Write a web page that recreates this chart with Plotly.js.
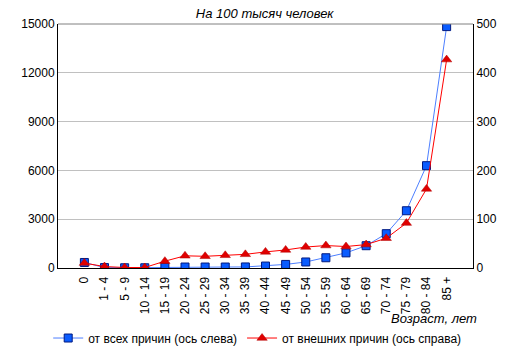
<!DOCTYPE html>
<html>
<head>
<meta charset="utf-8">
<script src="https://cdn.plot.ly/plotly-3.0.1.min.js"></script>
<style>html,body{margin:0;padding:0;background:#fff;}#chart{width:519px;height:355px;}</style>
</head>
<body>
<div id="chart"></div>
<script>
var ageGroups = ["0","1 - 4","5 - 9","10 - 14","15 - 19","20 - 24","25 - 29","30 - 34","35 - 39","40 - 44","45 - 49","50 - 54","55 - 59","60 - 64","65 - 69","70 - 74","75 - 79","80 - 84","85 +"];
var allCauses = [340, 25, 15, 15, 40, 60, 60, 60, 65, 120, 220, 370, 630, 930, 1370, 2110, 3520, 6290, 14840];
var externalCauses = [10, 3, 1, 1, 14, 25, 24, 26, 28, 33, 37, 43, 46, 44, 48, 61, 92, 162, 427];
var leftTicks = [0, 3000, 6000, 9000, 12000, 15000];
var rightTicks = [0, 100, 200, 300, 400, 500];

var font = "Liberation Sans, Arial, sans-serif";

var traces = [
  {
    x: ageGroups, y: allCauses, type: "scatter", mode: "lines+markers",
    name: "от всех причин (ось слева)",
    line: {color: "#4d7fff", width: 1},
    marker: {symbol: "square", size: 8, color: "#0a5cff", line: {color: "#001a80", width: 1}},
    yaxis: "y"
  },
  {
    x: ageGroups, y: externalCauses, type: "scatter", mode: "lines+markers",
    name: "от внешних причин (ось справа)",
    line: {color: "#ff0000", width: 1},
    marker: {symbol: "triangle-up", size: 9, color: "#e00000", line: {color: "#b00000", width: 0.5}},
    yaxis: "y2"
  }
];

var layout = {
  width: 519, height: 355,
  margin: {l: 58, r: 46, t: 24, b: 87, autoexpand: false},
  paper_bgcolor: "#fff", plot_bgcolor: "#fff",
  font: {family: font, size: 12, color: "#000"},
  title: {text: "<i>На 100 тысяч человек</i>", x: 0.51, xanchor: "center", y: 0.963, yanchor: "middle", font: {family: font, size: 13, color: "#000"}},
  showlegend: true,
  legend: {orientation: "h", x: 0.48, xanchor: "center", y: -0.287, yanchor: "middle", font: {family: font, size: 12}, tracegroupgap: 0},
  xaxis: {
    type: "category", tickangle: -90, showgrid: false, showline: true, linecolor: "#000", linewidth: 1,
    ticks: "", tickfont: {family: font, size: 12}, zeroline: false, automargin: false, ticklabelstandoff: 3
  },
  yaxis: {
    range: [0, 15000], tickvals: leftTicks, ticktext: leftTicks.map(String),
    showgrid: true, gridcolor: "#c0c0c0", gridwidth: 1, showline: true, linecolor: "#000", linewidth: 1,
    ticks: "", zeroline: false, tickfont: {family: font, size: 12}, automargin: false
  },
  yaxis2: {
    range: [0, 500], tickvals: rightTicks, ticktext: rightTicks.map(String), overlaying: "y", side: "right",
    showgrid: false, showline: true, linecolor: "#000", linewidth: 1, ticks: "", zeroline: false,
    tickfont: {family: font, size: 12}, automargin: false
  },
  shapes: [
    {type: "line", xref: "paper", yref: "paper", x0: 0, x1: 1, y0: 1, y1: 1, line: {color: "#808080", width: 1}}
  ],
  annotations: [
    {text: "<i>Возраст, лет</i>", xref: "paper", yref: "paper", x: 1.015, y: -0.205, xanchor: "right", yanchor: "middle", showarrow: false, font: {family: font, size: 13, color: "#000"}}
  ]
};

Plotly.newPlot("chart", traces, layout, {displayModeBar: false, staticPlot: true});
</script>
</body>
</html>
